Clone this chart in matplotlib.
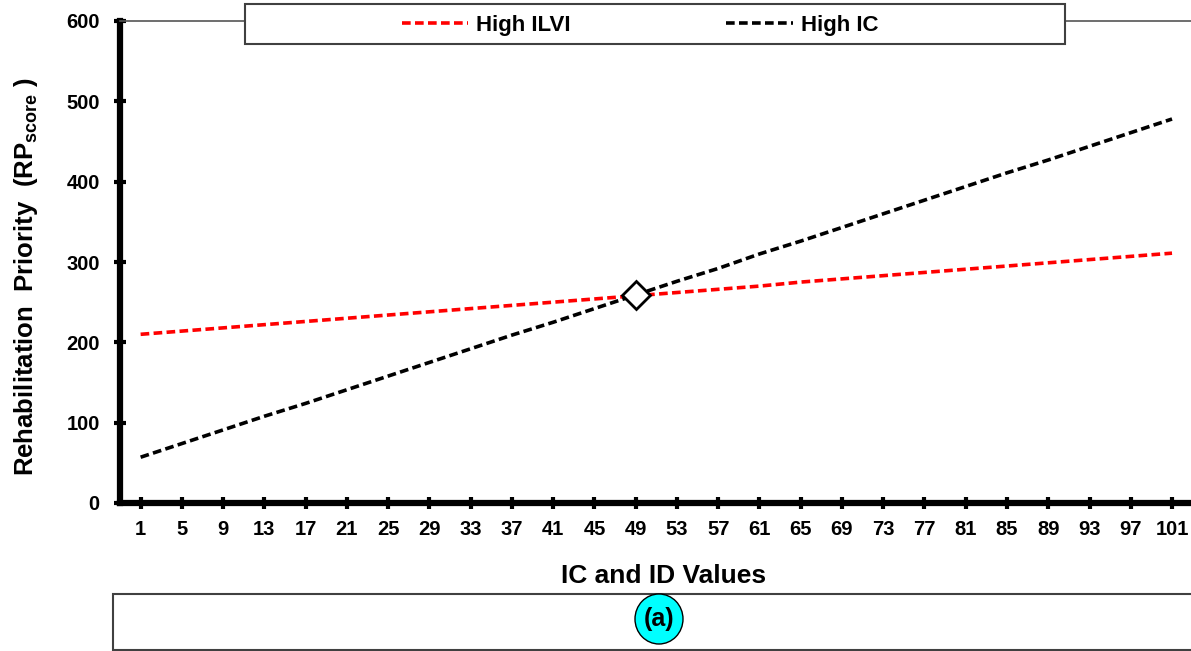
import matplotlib
matplotlib.use("Agg")
import matplotlib.pyplot as plt
from matplotlib.patches import Rectangle, Ellipse

plt.rcParams['font.family'] = ['Liberation Sans', 'DejaVu Sans']
plt.rcParams['font.weight'] = 'bold'
plt.rcParams['mathtext.fontset'] = 'custom'
plt.rcParams['mathtext.bf'] = 'Liberation Sans:bold'
plt.rcParams['mathtext.rm'] = 'Liberation Sans:bold'

# IC / ID values (every 4th category is labelled)
ic_values = [1, 5, 9, 13, 17, 21, 25, 29, 33, 37, 41, 45, 49,
             53, 57, 61, 65, 69, 73, 77, 81, 85, 89, 93, 97, 101]
high_ilvi = [210, 214, 218, 222, 226, 230, 234, 238, 242, 246, 250, 254, 258,
             262, 266, 270, 275, 279, 283, 287, 291, 295, 299, 303, 307, 311]
high_ic = [57, 74, 91, 108, 124, 141, 158, 175, 192, 209, 225, 242, 259,
           276, 292, 310, 326, 343, 360, 377, 394, 411, 427, 444, 461, 478]
cross_x, cross_y = 49, 259
y_ticks = [0, 100, 200, 300, 400, 500, 600]

W, H = 1191, 651
fig = plt.figure(figsize=(W / 100, H / 100), dpi=100)
ax = fig.add_axes([120 / W, 1 - 503 / H, (W - 120) / W, (503 - 21) / H])

dash = (2.4, 1.2)
ax.plot(ic_values, high_ilvi, color='#ff0000', lw=2.6, dashes=dash, label='High ILVI')
ax.plot(ic_values, high_ic, color='black', lw=2.6, dashes=dash, label='High IC')
ax.plot([cross_x], [cross_y], marker='D', markersize=14, mfc='white', mec='black',
        mew=2, ls='none', zorder=5)

ax.set_xlim(-1.0, 102.84)
ax.set_ylim(0, 600)
ax.set_xticks(ic_values)
ax.set_yticks(y_ticks)
ax.tick_params(axis='both', direction='inout', length=9, width=3, labelsize=14.5, pad=8)
ax.tick_params(axis='y', pad=10)

for s in ['left', 'bottom']:
    ax.spines[s].set_linewidth(4.5)
ax.spines['right'].set_visible(False)
ax.spines['top'].set_color('#555555')
ax.spines['top'].set_linewidth(1.2)

ax.set_ylabel('Rehabilitation  Priority  (RP$_{\\mathbf{score}}$ )', fontsize=18.5,
              fontweight='bold')
ax.yaxis.set_label_coords(-80 / (W - 120), (503 - 277) / (503 - 21))
fig.text(664 / W, 1 - 576 / H, 'IC and ID Values', fontsize=19, fontweight='bold',
         ha='center', va='center')

# legend box across the top
fig.patches.append(Rectangle((245 / W, 1 - 44 / H), 820 / W, 40 / H,
                             transform=fig.transFigure, facecolor='white',
                             edgecolor='#404040', lw=1.5, zorder=3))
fig.legend(loc='center', bbox_to_anchor=(640 / W, 1 - 25 / H), ncol=2,
           frameon=False, handlelength=3.0, handletextpad=0.35,
           columnspacing=7.0, prop={'weight': 'bold', 'size': 16})

# panel tag box
fig.patches.append(Rectangle((113 / W, 1 / H), (W + 10 - 113) / W, 56 / H,
                             transform=fig.transFigure, facecolor='white',
                             edgecolor='#404040', lw=1.5, zorder=3))
fig.patches.append(Ellipse((659 / W, 1 - 619 / H), 48 / W, 50 / H,
                           transform=fig.transFigure, facecolor='#00ffff',
                           edgecolor='black', lw=1, zorder=4))
fig.text(659 / W, 1 - 619 / H, '(a)', fontsize=18, fontweight='bold',
         ha='center', va='center', zorder=5)

fig.savefig('out.png', dpi=100)
